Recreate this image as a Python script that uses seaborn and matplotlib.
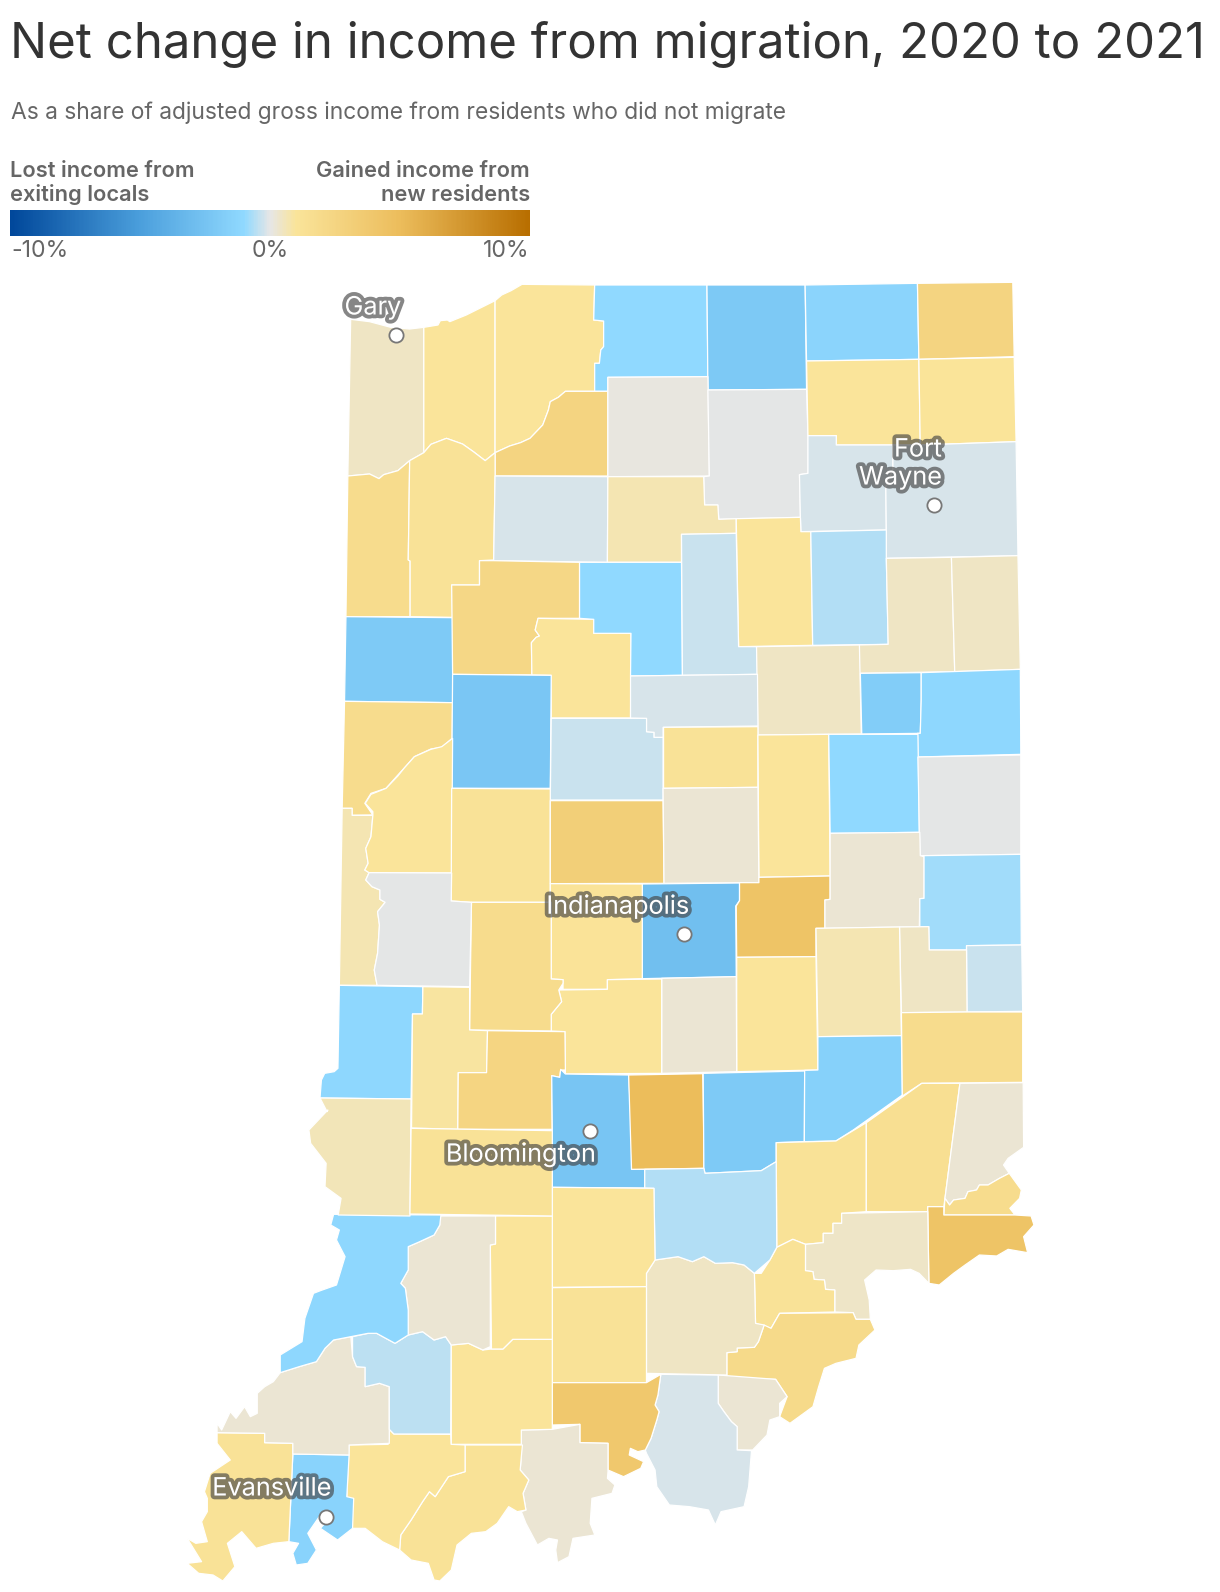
import numpy as np
import matplotlib
matplotlib.use("Agg")
import matplotlib.pyplot as plt
from matplotlib.collections import PolyCollection
from matplotlib.colors import LinearSegmentedColormap, Normalize
import matplotlib.patheffects as pe
import pandas as pd
import seaborn as sns

TITLE = "Net change in income from migration, 2020 to 2021"
SUBTITLE = "As a share of adjusted gross income from residents who did not migrate"
LEGEND_LEFT = "Lost income from\nexiting locals"
LEGEND_RIGHT = "Gained income from\nnew residents"
LEGEND_TICKS = ["-10%", "0%", "10%"]
LEGEND_VALUES = [-10, 0, 10]

CITY_NAMES = ["Gary", "Fort Wayne", "Indianapolis", "Bloomington", "Evansville"]
CITY_X = [396, 934, 684, 590, 325.6]
CITY_Y = [335, 505, 934, 1131, 1517]

STOP_VALUES = [-10, -5, -1, 0, 1, 5, 10]
STOP_COLORS = ["#00479a", "#4b9fdc", "#90d9ff", "#e6e6e6", "#fae49a", "#ecbd5c", "#b86e00"]

VALUES = {
    "Lake": 0.45, "Porter": 1.0, "LaPorte": 1.0, "St. Joseph": -1.0, "Elkhart": -2.1,
    "LaGrange": -1.3, "Steuben": 2.6, "Starke": 2.6, "Marshall": 0.08, "Kosciusko": -0.03,
    "Noble": 1.0, "DeKalb": 1.05, "Whitley": -0.18, "Allen": -0.18, "Newton": 1.8,
    "Jasper": 1.2, "Pulaski": -0.18, "Fulton": 0.7, "Wabash": 1.0, "Huntington": -0.62,
    "Wells": 0.45, "Adams": 0.45, "Benton": -2.0, "White": 2.3, "Carroll": 1.0,
    "Cass": -1.0, "Miami": -0.33, "Grant": 0.45, "Blackford": -1.8, "Jay": -1.1,
    "Warren": 1.8, "Tippecanoe": -2.3, "Clinton": -0.33, "Howard": -0.18, "Tipton": 1.2,
    "Madison": 1.0, "Delaware": -1.0, "Randolph": -0.03, "Vermillion": 0.7, "Fountain": 1.0,
    "Montgomery": 1.2, "Boone": 3.2, "Hamilton": 0.27, "Marion": -2.8, "Hendricks": 1.1,
    "Hancock": 4.3, "Henry": 0.27, "Wayne": -0.8, "Union": -0.33, "Fayette": 0.45,
    "Rush": 0.7, "Shelby": 1.0, "Johnson": 0.27, "Morgan": 1.0, "Putnam": 1.8,
    "Parke": -0.03, "Vigo": -1.1, "Clay": 0.9, "Owen": 2.5, "Monroe": -2.4,
    "Brown": 5.0, "Bartholomew": -2.0, "Decatur": -1.6, "Franklin": 1.8, "Jennings": 1.2,
    "Ripley": 1.5, "Dearborn": 0.27, "Ohio": 1.8, "Switzerland": 4.3, "Jefferson": 0.4,
    "Scott": 1.2, "Clark": 2.0, "Floyd": 0.27, "Harrison": -0.18, "Washington": 0.45,
    "Jackson": -0.62, "Lawrence": 1.0, "Orange": 1.2, "Crawford": 3.9, "Perry": 0.27,
    "Spencer": 1.2, "Warrick": 1.0, "Vanderburgh": -1.4, "Posey": 1.2, "Gibson": 0.27,
    "Pike": -0.48, "Dubois": 1.0, "Martin": 1.0, "Daviess": 0.27, "Knox": -1.1,
    "Sullivan": 0.6, "Greene": 1.2,
}


def A(p):
    return [(320 + x / 2.119, 270 + y / 3) for x, y in p]


def B(p):
    return [(320 + x / 2.119, 690 + y / 3) for x, y in p]


def C(p):
    return [(170 + x / 1.742, 1110 + y / 3) for x, y in p]


OUTLINES = {
    "Lake": A([(65,148),(105,155),(150,172),(190,177),(220,172),(220,548),(190,572),(165,602),(135,614),(125,626),(105,612),(59,618)]),
    "Porter": A([(220,172),(250,165),(255,152),(270,150),(275,155),(310,135),(371,92),(371,548),(350,572),(325,545),(302,522),(268,505),(235,523),(220,548)]),
    "LaPorte": A([(371,92),(385,75),(405,62),(428,43),(582,45),(580,150),(601,153),(601,230),(595,240),(592,280),(582,280),(582,364),(520,364),(505,382),(488,395),(484,420),(472,465),(445,505),(425,518),(402,528),(371,548)]),
    "St. Joseph": A([(582,45),(820,45),(822,320),(610,322),(610,364),(582,364),(582,280),(592,280),(595,240),(601,230),(601,153),(580,150)]),
    "Elkhart": A([(820,45),(1028,45),(1031,358),(822,360)]),
    "LaGrange": A([(1028,45),(1266,40),(1269,268),(1031,273)]),
    "Steuben": A([(1266,40),(1468,37),(1471,260),(1269,268)]),
    "Starke": A([(520,364),(610,364),(610,618),(371,618),(371,548),(402,528),(425,518),(445,505),(472,465),(484,420),(488,395),(505,382)]),
    "Marshall": A([(610,322),(822,320),(825,618),(610,620)]),
    "Kosciusko": A([(822,360),(1031,358),(1034,497),(1034,610),(1016,614),(1018,742),(845,748),(843,705),(815,705),(813,620),(825,618)]),
    "Noble": A([(1031,273),(1269,268),(1272,525),(1094,525),(1094,497),(1034,497)]),
    "DeKalb": A([(1269,268),(1471,262),(1475,515),(1272,525)]),
    "Whitley": A([(1034,497),(1094,497),(1094,525),(1214,525),(1214,600),(1199,650),(1200,780),(1019,785),(1018,742),(1016,614),(1034,610)]),
    "Allen": A([(1214,525),(1272,525),(1475,515),(1479,857),(1200,865),(1200,780),(1199,650),(1214,600)]),
    "Newton": A([(59,618),(105,612),(125,626),(135,614),(165,602),(190,572),(187,870),(191,873),(191,1040),(55,1040)]),
    "Jasper": A([(190,572),(215,552),(220,548),(235,523),(268,505),(302,522),(325,545),(350,572),(371,548),(371,618),(368,870),(338,872),(338,945),(279,945),(281,1042),(191,1040),(191,873),(187,870)]),
    "Pulaski": A([(371,618),(610,620),(609,877),(368,872)]),
    "Fulton": A([(610,620),(813,620),(815,705),(843,705),(845,748),(882,746),(882,790),(766,793),(766,877),(609,877)]),
    "Wabash": A([(882,746),(1018,742),(1019,785),(1040,785),(1044,1126),(887,1130)]),
    "Huntington": A([(1040,785),(1200,780),(1200,865),(1204,1123),(1044,1126)]),
    "Wells": A([(1200,865),(1338,862),(1345,1205),(1143,1210),(1143,1125),(1204,1123)]),
    "Adams": A([(1338,862),(1479,857),(1484,1198),(1345,1205)]),
    "Benton": A([(55,1040),(281,1043),(281,1298),(52,1294)]),
    "White": A([(338,872),(368,872),(550,877),(550,1045),(462,1045),(456,1080),(465,1098),(458,1102),(448,1118),(449,1215),(281,1213),(279,945),(338,945)]),
    "Carroll": A([(462,1045),(580,1048),(580,1090),(659,1090),(658,1344),(490,1344),(490,1216),(449,1215),(448,1118),(458,1102),(465,1098),(456,1080)]),
    "Cass": A([(550,877),(766,877),(768,1216),(658,1218),(659,1090),(580,1090),(580,1048),(550,1045)]),
    "Miami": A([(766,793),(882,790),(887,1130),(925,1130),(927,1213),(768,1216)]),
    "Grant": A([(925,1130),(1143,1125),(1147,1392),(928,1395)]),
    "Blackford": A([(1145,1210),(1274,1208),(1274,1290),(1272,1390),(1148,1392)]),
    "Jay": A([(1274,1208),(1484,1198),(1485,1453),(1267,1461),(1266,1390),(1272,1390),(1274,1290)]),
    "Warren": A([(52,1294),(281,1298),(280,1405),(258,1432),(235,1437),(200,1460),(178,1495),(165,1515),(140,1555),(108,1570),(95,1600),(112,1635),(68,1636),(68,1615),(47,1615)]),
    "Tippecanoe": A([(281,1213),(490,1216),(488,1555),(279,1555)]),
    "Clinton": B([(490,85),(692,85),(692,125),(708,127),(708,142),(727,142),(727,330),(488,330)]),
    "Howard": A([(658,1218),(927,1213),(928,1368),(727,1372),(727,1402),(708,1402),(708,1387),(692,1385),(692,1345),(658,1344)]),
    "Tipton": B([(728,112),(928,110),(928,292),(728,295)]),
    "Madison": B([(928,135),(1078,133),(1081,558),(930,562)]),
    "Delaware": B([(1078,133),(1267,133),(1270,427),(1081,430)]),
    "Randolph": B([(1267,201),(1485,195),(1485,493),(1272,497),(1270,427)]),
    "Vermillion": B([(47,355),(68,355),(68,376),(112,376),(108,440),(97,475),(102,520),(95,540),(104,548),(97,570),(110,590),(127,600),(127,628),(138,637),(122,665),(126,705),(122,790),(115,840),(121,886),(41,886)]),
    "Fountain": B([(281,145),(279,549),(104,548),(95,540),(102,520),(97,475),(108,440),(112,376),(112,365),(96,340),(108,313),(140,295),(165,258),(178,235),(200,200),(235,178),(258,170)]),
    "Montgomery": B([(279,295),(488,297),(488,637),(321,637),(278,633)]),
    "Boone": B([(488,332),(727,332),(729,580),(488,581)]),
    "Hamilton": B([(727,295),(928,292),(930,578),(729,580)]),
    "Marion": B([(683,582),(889,579),(889,632),(881,648),(882,860),(683,866)]),
    "Hendricks": B([(488,581),(683,582),(683,866),(609,869),(609,898),(515,898),(515,869),(490,867),(490,637),(488,637)]),
    "Hancock": B([(889,578),(930,578),(930,562),(1081,558),(1081,628),(1070,630),(1070,715),(1051,715),(1051,800),(883,802),(882,648),(889,632)]),
    "Henry": B([(1081,430),(1271,427),(1272,497),(1280,500),(1280,625),(1271,626),(1270,710),(1070,715),(1070,630),(1081,628)]),
    "Wayne": B([(1280,497),(1485,493),(1486,765),(1370,767),(1370,780),(1291,780),(1290,710),(1271,710),(1271,626),(1280,625)]),
    "Union": B([(1370,767),(1487,765),(1489,964),(1371,966)]),
    "Fayette": B([(1228,711),(1290,710),(1291,780),(1370,780),(1371,966),(1232,968)]),
    "Rush": B([(1051,715),(1228,711),(1232,1037),(1055,1040)]),
    "Shelby": B([(883,802),(1051,800),(1055,1140),(883,1145)]),
    "Johnson": B([(724,865),(882,860),(883,1145),(724,1150)]),
    "Morgan": B([(609,869),(724,867),(724,1150),(520,1152),(519,1025),(490,1023),(490,973),(512,935),(506,900),(609,898)]),
    "Putnam": B([(321,637),(490,637),(490,867),(515,869),(515,880),(506,900),(512,935),(490,973),(490,1023),(317,1020)]),
    "Parke": B([(97,570),(104,548),(279,549),(278,633),(321,637),(317,890),(121,886),(115,840),(122,790),(126,705),(122,665),(138,637),(127,628),(127,600),(110,590)]),
    "Vigo": B([(41,886),(218,890),(217,972),(196,972),(193,1227),(0,1224),(3,1170),(10,1150),(30,1145),(38,1135)]),
    "Clay": B([(218,890),(317,892),(317,1020),(355,1022),(353,1148),(293,1148),(292,1318),(194,1314),(196,972),(217,972)]),
    "Owen": B([(355,1022),(519,1025),(520,1140),(510,1140),(508,1162),(491,1157),(492,1318),(292,1318),(293,1148),(353,1148)]),
    "Monroe": B([(491,1157),(508,1162),(510,1138),(520,1152),(654,1155),(657,1240),(660,1320)]) + C([(804,178),(827,178),(827,234),(666,232),(666,60)]),
    "Brown": B([(654,1155),(811,1151),(813,1320)]) + C([(930,175),(804,178)]),
    "Bartholomew": B([(812,1150),(1027,1143)]) + C([(1105,95),(1056,98),(1056,155),(1030,182),(932,190),(930,175)]),
    "Decatur": B([(1027,1141),(1055,1140),(1055,1040),(1232,1037),(1234,1215),(1130,1320)]) + C([(1160,93),(1105,95)]),
    "Franklin": B([(1232,968),(1371,966),(1489,966),(1489,1177),(1275,1180),(1234,1218)]),
    "Jennings": C([(1056,98),(1160,93),(1213,38),(1213,305),(1170,310),(1170,340),(1155,340),(1155,370),(1138,370),(1138,398),(1107,403),(1085,388),(1057,412)]),
    "Ripley": C([(1213,38)]) + B([(1275,1180),(1356,1180)]) + C([(1350,265),(1348,290),(1320,290),(1320,305),(1213,305)]),
    "Dearborn": B([(1356,1180),(1490,1178)]) + C([(1487,112),(1460,145),(1452,165),(1462,190),(1445,205),(1425,225),(1410,225),(1405,240),(1390,245),(1385,265),(1365,270),(1358,285),(1350,265)]),
    "Ohio": C([(1350,265),(1358,285),(1365,270),(1385,265),(1390,245),(1405,240),(1410,225),(1425,225),(1445,205),(1462,190),(1483,240),(1480,265),(1463,295),(1472,315),(1348,315)]),
    "Switzerland": C([(1320,290),(1348,290),(1348,315),(1472,315),(1500,318),(1505,345),(1487,380),(1494,428),(1460,418),(1440,438),(1410,435),(1385,465),(1365,490),(1340,525),(1322,520)]),
    "Jefferson": C([(1107,403),(1138,398),(1138,370),(1155,370),(1155,340),(1170,340),(1170,310),(1320,305),(1322,520),(1305,490),(1290,478),(1260,482),(1230,480),(1210,510),(1218,570),(1220,628),(1195,628),(1190,608),(1158,606),(1158,540),(1142,538),(1140,510),(1122,508),(1120,485),(1107,482)]),
    "Scott": C([(1057,412),(1085,388),(1107,403),(1107,482),(1120,485),(1122,508),(1140,510),(1142,538),(1158,540),(1158,606),(1062,610),(1047,655),(1020,640),(1018,490),(1030,490),(1045,450)]),
    "Clark": C([(1062,610),(1190,608),(1195,628),(1220,628),(1228,660),(1200,705),(1195,745),(1160,760),(1140,775),(1130,830),(1120,890),(1080,940),(1062,920),(1075,860),(1055,808),(970,805),(970,728),(988,725),(988,714),(1018,712),(1025,695),(1035,645),(1047,655)]),
    "Floyd": C([(955,795),(1055,808),(1075,860),(1062,880),(1062,920),(1045,930),(1040,975),(1015,1020),(988,1020),(988,950),(978,935),(965,905),(955,880)]),
    "Harrison": C([(855,793),(955,795),(955,880),(965,905),(978,935),(988,950),(988,1020),(1013,1022),(1008,1130),(1000,1190),(960,1205),(950,1245),(938,1200),(905,1190),(870,1185),(848,1130),(845,1080),(830,1030),(828,1020),(838,985),(848,930),(852,905),(845,885),(850,855)]),
    "Washington": C([(845,450),(885,440),(910,455),(930,440),(950,460),(980,458),(1000,465),(1018,490),(1020,640),(1035,645),(1025,695),(1018,712),(988,714),(988,725),(970,728),(970,795),(830,790),(830,490)]),
    "Jackson": C([(827,178),(930,175),(932,190),(1030,182),(1056,155),(1057,412),(1045,450),(1018,490),(1000,465),(980,458),(950,460),(930,440),(910,455),(885,440),(845,450),(843,235),(827,234)]),
    "Lawrence": C([(666,232),(843,235),(845,450),(830,490),(830,530),(666,532)]),
    "Orange": C([(666,533),(830,530),(830,818),(666,818)]),
    "Crawford": C([(666,818),(830,818),(855,793),(850,855),(845,885),(852,905),(848,930),(838,985),(828,1020),(815,1025),(802,1015),(800,1035),(825,1055),(820,1075),(790,1100),(763,1080),(763,1000),(714,998),(714,943),(666,945)]),
    "Perry": C([(612,960),(666,958),(714,943),(714,998),(763,1000),(763,1085),(762,1105),(775,1125),(770,1150),(735,1165),(732,1240),(740,1275),(702,1285),(695,1340),(675,1358),(672,1320),(675,1290),(660,1285),(640,1305),(620,1240),(612,1205),(620,1200),(615,1150),(625,1110),(610,1080),(612,1040)]),
    "Spencer": C([(514,1005),(614,1005),(612,1040),(610,1080),(625,1110),(615,1150),(620,1200),(605,1205),(590,1190),(570,1240),(550,1265),(525,1270),(500,1305),(490,1380),(470,1413),(460,1410),(450,1360),(420,1350),(400,1320),(402,1275),(420,1230),(440,1175),(452,1145),(462,1160),(485,1100),(514,1085)]),
    "Warrick": C([(312,1005),(380,1003),(382,958),(390,972),(489,973),(490,1003),(514,1005),(514,1085),(485,1100),(462,1160),(452,1145),(440,1175),(420,1230),(402,1275),(400,1320),(370,1295),(340,1255),(318,1255),(308,1160)]),
    "Vanderburgh": C([(214,1032),(312,1035),(308,1160),(320,1165),(318,1255),(292,1290),(262,1255),(280,1220),(260,1220),(240,1270),(255,1320),(240,1360),(220,1365),(214,1330),(224,1300),(207,1295)]),
    "Posey": C([(82,968),(165,970),(165,998),(214,1000),(214,1032),(207,1295),(180,1300),(150,1315),(125,1265),(100,1300),(113,1370),(92,1413),(75,1395),(50,1390),(30,1360),(55,1355),(30,1285),(45,1300),(65,1295),(55,1235),(65,1205),(65,1165),(60,1145),(70,1090),(105,1050),(82,1000)]),
    "Gibson": C([(192,788),(225,770),(255,755),(270,715),(285,690),(315,680),(318,740),(325,770),(340,772),(340,830),(365,820),(382,830),(382,1000),(312,1005),(312,1035),(214,1032),(214,1000),(165,998),(165,970),(82,968),(82,940),(90,960),(105,905),(115,925),(130,890),(140,920),(152,910),(152,850),(165,830),(180,815)]),
    "Pike": C([(318,680),(345,670),(360,670),(392,700),(415,675),(440,665),(460,690),(480,680),(490,705),(489,972),(390,972),(382,958),(382,830),(365,820),(340,830),(340,772),(325,770),(318,740)]),
    "Dubois": C([(490,705),(520,700),(545,720),(560,717),(580,717),(597,688),(666,688),(666,958),(612,960),(612,1003),(490,1003)]),
    "Martin": C([(567,318),(666,318),(666,688),(597,688),(580,717),(560,717),(558,405),(567,402)]),
    "Daviess": C([(470,318),(567,318),(567,402),(558,405),(558,710),(545,720),(520,700),(490,705),(480,680),(460,690),(440,665),(415,675),(415,600),(410,535),(402,520),(415,480),(415,410),(435,395),(460,375),(470,345)]),
    "Knox": C([(285,313),(472,315),(470,345),(460,375),(435,395),(415,410),(415,480),(402,520),(410,535),(415,600),(415,675),(392,700),(360,670),(345,670),(315,680),(285,690),(270,715),(255,755),(225,770),(192,788),(192,735),(230,695),(235,625),(250,550),(262,542),(290,525),(305,440),(290,390),(295,360),(280,345)]),
    "Sullivan": B([(0,1224),(193,1227)]) + C([(418,318),(293,315),(298,265),(270,230),(272,160),(245,100),(242,60),(275,0)]) + B([(15,1265),(3,1232)]),
    "Greene": C([(420,55),(666,62),(666,318),(418,312)]),
}

sns.set_theme(style="white")
plt.rcParams["font.family"] = ["Inter", "DejaVu Sans"]

W, H = 1220, 1592
fig = plt.figure(figsize=(W / 100, H / 100), dpi=100, facecolor="white")
ax = fig.add_axes([0, 0, 1, 1])
ax.set_xlim(0, W)
ax.set_ylim(H, 0)
ax.axis("off")

positions = [(v + 10) / 20 for v in STOP_VALUES]
cmap = LinearSegmentedColormap.from_list("migration", list(zip(positions, STOP_COLORS)), N=512)
norm = Normalize(-10, 10)

names = list(VALUES)
polys = PolyCollection([OUTLINES[n] for n in names], array=np.array([VALUES[n] for n in names]),
                       cmap=cmap, norm=norm, edgecolors="white", linewidths=0.9, zorder=2)
ax.add_collection(polys)

TEXT_DARK = "#333333"
TEXT_MID = "#666666"
ax.text(10, 45, TITLE, fontsize=35.4, color=TEXT_DARK, va="center", ha="left")
ax.text(11, 113, SUBTITLE, fontsize=16.4, color=TEXT_MID, va="center", ha="left")
ax.text(10, 183, LEGEND_LEFT, fontsize=15.7, color=TEXT_MID, fontweight="semibold", va="center", ha="left", linespacing=1.22)
ax.text(530, 183, LEGEND_RIGHT, fontsize=15.7, color=TEXT_MID, fontweight="semibold", va="center", ha="right", linespacing=1.22)

# gradient legend strip
grad = pd.DataFrame([np.linspace(-10, 10, 400)])
cax = fig.add_axes([10 / W, 1 - 236 / H, 520 / W, 26 / H])
sns.heatmap(grad, ax=cax, cmap=cmap, vmin=-10, vmax=10, cbar=False, xticklabels=False, yticklabels=False)
ax.text(11, 251, LEGEND_TICKS[0], fontsize=16.6, color=TEXT_MID, va="center", ha="left")
ax.text(270, 251, LEGEND_TICKS[1], fontsize=16.6, color=TEXT_MID, va="center", ha="center")
ax.text(530, 251, LEGEND_TICKS[2], fontsize=16.6, color=TEXT_MID, va="center", ha="right")

# cities
sns.scatterplot(x=CITY_X, y=CITY_Y, ax=ax, s=105, color="white", edgecolor="#777777", linewidth=1.3, zorder=5, legend=False)
ax.set_xlim(0, W)
ax.set_ylim(H, 0)
halo = [pe.withStroke(linewidth=5.5, foreground=(0.27, 0.27, 0.27, 0.65))]
labels = [("Gary", 373, 308, "center"), ("Fort", 942, 450, "right"), ("Wayne", 942, 478, "right"),
          ("Indianapolis", 618, 907, "center"), ("Bloomington", 521, 1155, "center"), ("Evansville", 272, 1489, "center")]
for txt, x, y, ha in labels:
    ax.text(x, y, txt, fontsize=18.2, color="white", va="center", ha=ha, path_effects=halo, zorder=6)

fig.savefig("out.png", dpi=100, facecolor="white")
